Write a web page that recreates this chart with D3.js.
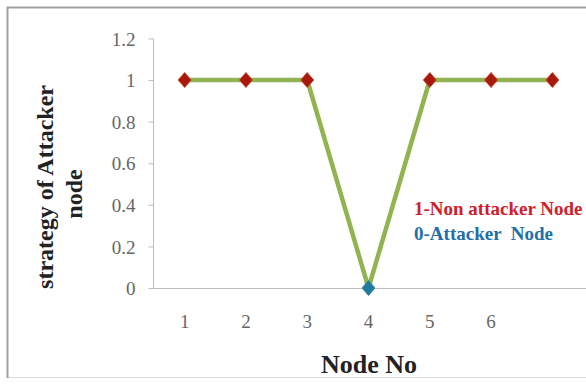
<!DOCTYPE html>
<html><head><meta charset="utf-8">
<script src="https://cdn.jsdelivr.net/npm/d3@7"></script>
<style>body{margin:0;background:#fff}svg{display:block}</style>
</head><body>
<svg id="c" width="586" height="389"></svg>
<script>
const categories = ["1","2","3","4","5","6","7"];
const tickLabels = ["1","2","3","4","5","6",""];
const values = [1,1,1,0,1,1,1];
const yTicks = [0,0.2,0.4,0.6,0.8,1,1.2];
const legendItems = ["1-Non attacker Node","0-Attacker  Node"];

const serif = "'Liberation Serif', 'Times New Roman', Times, serif";
const svg = d3.select("#c");
// frame
svg.append("rect").attr("x",0).attr("y",0).attr("width",586).attr("height",389).attr("fill","#fff");
svg.append("rect").attr("x",7.5).attr("y",7.5).attr("width",590).attr("height",370).attr("fill","#fff")
  .attr("stroke","#dcdcdc").attr("stroke-width",1);
svg.append("line").attr("x1",7.5).attr("x2",7.5).attr("y1",7).attr("y2",378).attr("stroke","#a0a0a0").attr("stroke-width",2);
svg.append("line").attr("x1",7).attr("x2",586).attr("y1",7.5).attr("y2",7.5).attr("stroke","#a0a0a0").attr("stroke-width",2);

const x = d3.scaleBand().domain(categories).range([154,583]);
const y = d3.scaleLinear().domain([0,1.2]).range([288,38.4]);

// y axis
const ya = svg.append("g").attr("transform","translate(153.5,0)")
  .call(d3.axisLeft(y).tickValues(yTicks).tickFormat(d=>d3.format("")(+d.toFixed(1))).tickSize(5).tickPadding(13));
ya.attr("font-family",null);
ya.select(".domain").attr("stroke","#bdbdbd").attr("d","M0,38.4V288");
ya.selectAll(".tick line").attr("stroke","#bdbdbd");
ya.selectAll("text").style("font-family",serif).attr("font-size",19).attr("fill","#666").attr("dy","0.35em");

// x axis
const xa = svg.append("g").attr("transform","translate(0,288.5)")
  .call(d3.axisBottom(x).tickFormat((d,i)=>tickLabels[i]).tickSize(0));
xa.attr("font-family",null);
xa.select(".domain").attr("stroke","#bdbdbd").attr("d","M150,0H586");
xa.selectAll("text").style("font-family",serif).attr("font-size",19).attr("fill","#666").attr("y",39.5).attr("dy",0);

// line
const cx = d => x(d)+x.bandwidth()/2;
svg.append("path").datum(values)
  .attr("fill","none").attr("stroke","#92b450").attr("stroke-width",4.5).attr("stroke-linejoin","round")
  .attr("d", d3.line().x((d,i)=>cx(categories[i])).y(d=>y(d)));

// markers
const diamond = {draw(ctx){ctx.moveTo(0,-7.5);ctx.lineTo(6.5,0);ctx.lineTo(0,7.5);ctx.lineTo(-6.5,0);ctx.closePath();}};
svg.selectAll(".m").data(values).enter().append("path")
  .attr("transform",(d,i)=>`translate(${cx(categories[i])},${y(d)})`)
  .attr("d", d3.symbol().type(diamond))
  .attr("fill", d=> d===0 ? "#1f7aa0" : "#a8180c")
  .attr("stroke", d=> d===0 ? "#3a8c8c" : "#c4482e").attr("stroke-width",1);

// titles
svg.append("text").attr("x",369).attr("y",373).attr("text-anchor","middle")
  .style("font-family",serif).attr("font-weight","bold").attr("font-size",26).attr("fill","#222")
  .text("Node No");
const yt = svg.append("text").attr("transform","rotate(-90)")
  .style("font-family",serif).attr("font-weight","bold").attr("font-size",24).attr("fill","#222")
  .attr("text-anchor","middle");
yt.append("tspan").attr("x",-187).attr("y",53).text("strategy of Attacker");
yt.append("tspan").attr("x",-194).attr("y",82).text("node");

// legend text
const legColors = ["#d0202a","#1f6fa8"];
svg.selectAll(".lg").data(legendItems).enter().append("text")
  .attr("x",414).attr("y",(d,i)=>215+i*25)
  .style("font-family",serif).attr("font-weight","bold").attr("font-size",19)
  .attr("fill",(d,i)=>legColors[i]).style("white-space","pre")
  .text(d=>d);
</script>
</body></html>
